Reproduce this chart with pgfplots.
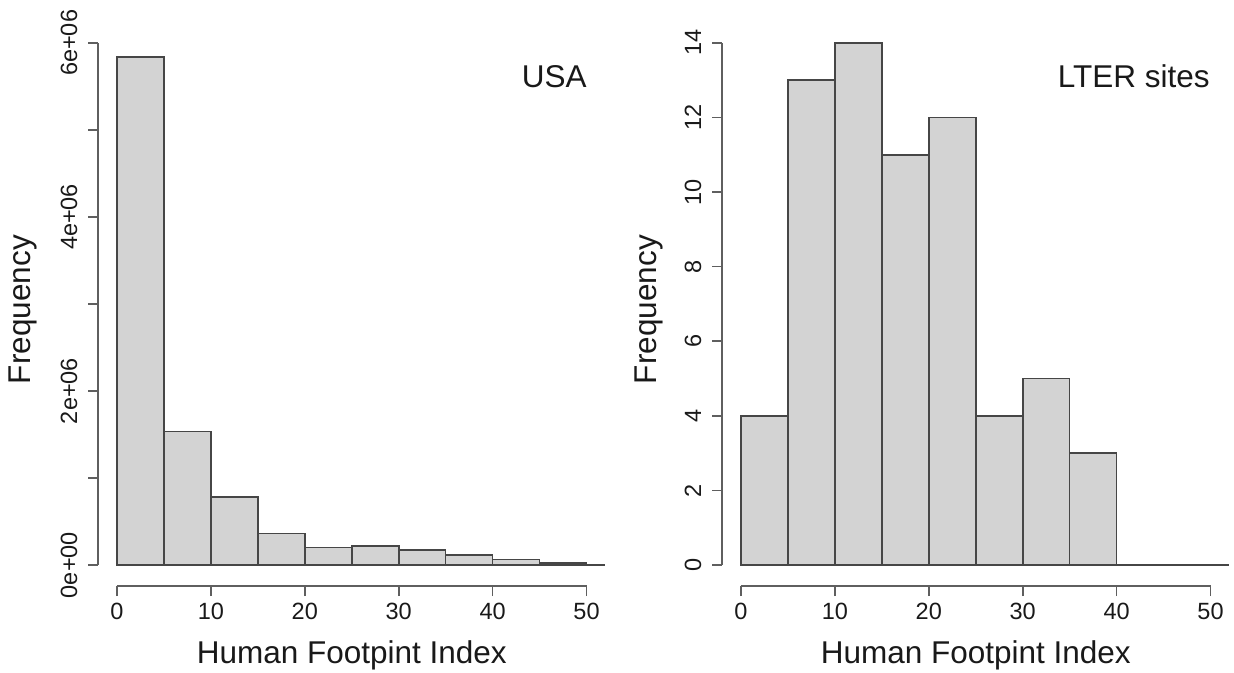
\documentclass[border=0pt]{standalone}
\usepackage{fontspec}
\setmainfont{Liberation Sans}
\usepackage{pgfplots}
\pgfplotsset{compat=1.18}
\definecolor{barfill}{RGB}{211,211,211}
\definecolor{baredge}{RGB}{70,70,70}
\definecolor{axisgray}{RGB}{95,95,95}
\definecolor{txt}{RGB}{25,25,25}
\pgfplotsset{
  rhist/.style={
    scale only axis, width=507.1pt, height=564pt,
    xmin=-2, xmax=52, clip=false,
    axis x line*=bottom, axis y line*=left,
    axis line style={draw=none},
    tick align=outside, major tick length=10pt,
    tick style={axisgray, line width=1.6pt},
    xtick={0,10,...,50},
    scaled y ticks=false,
    /pgf/number format/assume math mode=true,
    ticklabel style={font=\fontsize{23.5}{27}\selectfont, text=txt},
    xticklabel style={anchor=base},
    xticklabel shift=23pt,
    yticklabel style={rotate=90, anchor=base},
    yticklabel shift=11pt,
    label style={font=\fontsize{31.5}{36}\selectfont, text=txt},
    xlabel={Human Footpint Index},
    xlabel style={at={(axis description cs:0.5,-0.137)}, anchor=base},
    ylabel={Frequency},
  }
}
\begin{document}
\begin{tikzpicture}
\useasboundingbox (0,0) rectangle (1234pt,672pt);
% Left panel: USA
\begin{axis}[rhist, at={(98.2pt,86pt)}, anchor=south west,
  ymin=-240000, ymax=6240000,
  ytick={0,1000000,2000000,3000000,4000000,5000000,6000000},
  yticklabels={0e+00,,2e+06,,4e+06,,6e+06},
  ylabel style={at={(axis description cs:-0.1335,0.49)}, anchor=base},
]
\addplot[ybar interval, fill=barfill, draw=baredge, line width=1.6pt] coordinates {
 (0,5840000) (5,1535000) (10,780000) (15,365000) (20,204000) (25,219000)
 (30,173000) (35,115000) (40,66000) (45,26000) (50,0)};
\addplot[baredge, line width=1.6pt] coordinates {(0,0) (52,0)};
\addplot[axisgray, line width=1.6pt] coordinates {(0,-240000) (50,-240000)};
\addplot[axisgray, line width=1.6pt] coordinates {(-2,0) (-2,6000000)};
\node[anchor=base east, font=\fontsize{31.5}{36}\selectfont, text=txt] at (axis description cs:0.970,0.883) {USA};
\end{axis}
% Right panel: LTER sites
\begin{axis}[rhist, at={(722.2pt,86pt)}, anchor=south west,
  ymin=-0.56, ymax=14.56,
  ytick={0,2,...,14},
  ylabel style={at={(axis description cs:-0.1286,0.49)}, anchor=base},
]
\addplot[ybar interval, fill=barfill, draw=baredge, line width=1.6pt] coordinates {
 (0,4) (5,13) (10,14) (15,11) (20,12) (25,4) (30,5) (35,3) (40,0)};
\addplot[baredge, line width=1.6pt] coordinates {(0,0) (52,0)};
\addplot[axisgray, line width=1.6pt] coordinates {(0,-0.56) (50,-0.56)};
\addplot[axisgray, line width=1.6pt] coordinates {(-2,0) (-2,14)};
\node[anchor=base east, font=\fontsize{31.5}{36}\selectfont, text=txt] at (axis description cs:0.968,0.883) {LTER sites};
\end{axis}
\end{tikzpicture}
\end{document}
